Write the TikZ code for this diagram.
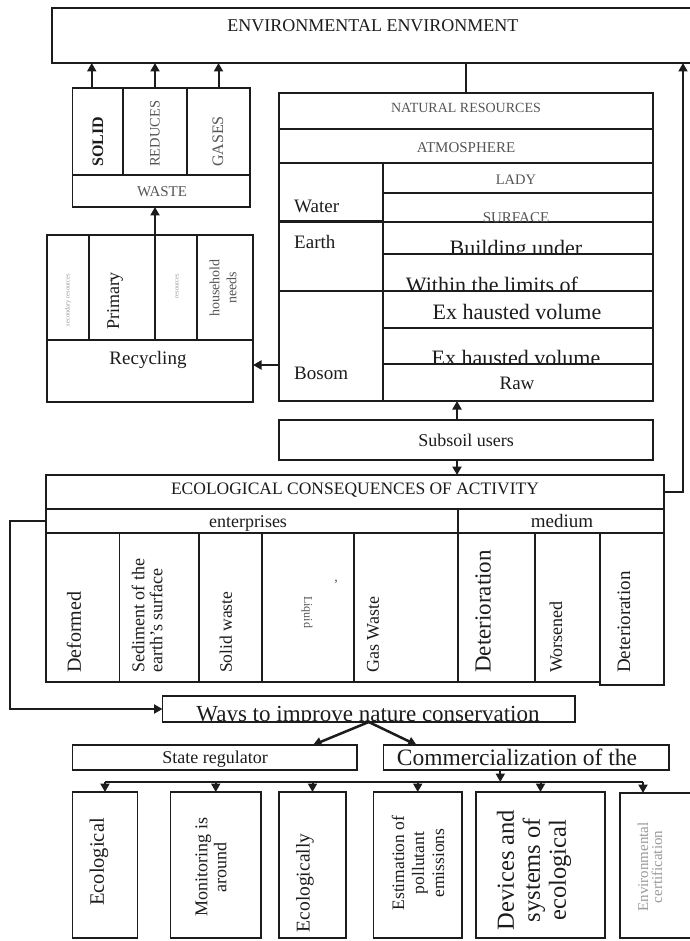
\documentclass[tikz,border=0pt]{standalone}
\usepackage{fontspec}
\setmainfont{Liberation Serif}
\usetikzlibrary{arrows.meta}
\definecolor{ink}{HTML}{1C1C1C}
\definecolor{soft}{HTML}{555555}
\definecolor{faint}{HTML}{9A9A9A}
\newcommand\fz[2]{\fontsize{#1}{#2}\selectfont}
% a framed cell given by its name and its corners (x1,y1) (x2,y2)
\newcommand\cell[5]{\node[cellbox, minimum width={(#4-#2)*1pt}, minimum height={(#5-#3)*1pt}] (#1) at ({(#2+#4)/2},{(#3+#5)/2}) {};}
\begin{document}
\begin{tikzpicture}[x=1pt,y=-1pt,
  cellbox/.style={draw=ink, line width=1.2pt, inner sep=0pt, outer sep=0pt},
  arr/.style={draw=ink, line width=2pt, -{Triangle[length=8.5pt,width=9pt]}},
  lbl/.style={inner sep=0pt, text=ink},
  vert/.style={rotate=90}]
\useasboundingbox (0,0) rectangle (689,941);
\fill[white] (0,0) rectangle (689,941);

% ---- top: environment ----
\cell{env}{52}{8}{700}{63}
\node[lbl, font=\fz{18}{20}, anchor=base] (t-env) at (373,32) {ENVIRONMENTAL ENVIRONMENT};

% ---- waste block ----
\cell{wsolid}{72.5}{88}{123}{175}
\cell{wred}{123}{88}{187}{175}
\cell{wgas}{187}{88}{250}{175}
\cell{wlab}{72.5}{175}{250}{207}
\node[lbl, font=\bfseries\fz{16}{18}, vert, anchor=west] (t-solid) at (98,167) {SOLID};
\node[lbl, text=soft, font=\fz{14.5}{16}, vert, anchor=west] (t-red) at (155,167) {REDUCES};
\node[lbl, text=soft, font=\fz{16}{18}, vert, anchor=west] (t-gas) at (218,167) {GASES};
\node[lbl, text=soft, font=\fz{15}{17}, anchor=base] (t-waste) at (162,197) {WASTE};

\draw[arr] ([xshift=-6pt]wsolid.north) -- ([xshift=-6pt]wsolid.north |- env.south);
\draw[arr] (wred.north) -- (wred.north |- env.south);
\draw[arr] (wgas.north) -- (wgas.north |- env.south);

% ---- recycling block ----
\cell{rc1}{47}{235}{89}{340}
\cell{rc2}{89}{235}{155}{340}
\cell{rc3}{155}{235}{197}{340}
\cell{rc4}{197}{235}{253}{340}
\cell{rcl}{47}{340}{253}{402}
\node[lbl, text=faint, font=\fz{6.5}{7}, vert] (t-rc1) at (68,300) {secondary resources};
\node[lbl, font=\fz{18}{20}, vert] (t-prim) at (115,301) {Primary};
\node[lbl, text=faint, font=\fz{6.5}{7}, vert] (t-rc3) at (177,286) {resources};
\node[lbl, text=soft, font=\fz{14}{17}, vert, align=center] (t-hh) at (223,288) {household\\needs};
\node[lbl, font=\fz{19}{21}, anchor=base] (t-rec) at (148,364) {Recycling};
\draw[arr] (rc2.north east) -- (rc2.north east |- wlab.south);

% ---- natural resources block ----
\cell{nr}{279}{93}{653}{129}
\cell{atm}{279}{129}{653}{163}
\cell{water}{279}{163}{383}{222}
\cell{lady}{383}{163}{653}{193}
\cell{surf}{383}{193}{653}{222}
\cell{earth}{279}{222}{383}{291}
\cell{build}{383}{222}{653}{254}
\cell{within}{383}{254}{653}{291}
\cell{bosom}{279}{291}{383}{401}
\cell{ev1}{383}{291}{653}{328}
\cell{ev2}{383}{328}{653}{364}
\cell{raw}{383}{364}{653}{401}
\draw[ink, line width=3pt] (water.south west) -- (water.south east);
\draw[ink, line width=1.2pt] (nr.north) -- (nr.north |- env.south);

\node[lbl, text=soft, font=\fz{14}{16}, anchor=base] (t-nr) at (466,113) {NATURAL RESOURCES};
\node[lbl, text=soft, font=\fz{15}{17}, anchor=base] (t-atm) at (466,153) {ATMOSPHERE};
\node[lbl, text=soft, font=\fz{14.5}{16}, anchor=base] (t-lady) at (516,185) {LADY};
\begin{scope}
  \clip (surf.north west) rectangle (surf.south east);
  \node[lbl, text=soft, font=\fz{15}{17}, anchor=base] (t-surf) at (516,222.5) {SURFACE};
\end{scope}
\node[lbl, font=\fz{19}{21}, anchor=base west] (t-water) at (294,213) {Water};
\node[lbl, font=\fz{19}{21}, anchor=base west] (t-earth) at (294,248) {Earth};
\node[lbl, font=\fz{19}{21}, anchor=base west] (t-bosom) at (294,379) {Bosom};
\begin{scope}
  \clip (build.north west) rectangle (build.south east);
  \node[lbl, font=\fz{22}{24}, anchor=base] (t-build) at (516,255) {Building under};
\end{scope}
\begin{scope}
  \clip (within.north west) rectangle (within.south east);
  \node[lbl, font=\fz{22}{24}, anchor=base] (t-within) at (492,292) {Within the limits of};
\end{scope}
\node[lbl, font=\fz{22}{24}, anchor=base] (t-ev1) at (517,319) {Ex hausted volume};
\begin{scope}
  \clip (ev2.north west) rectangle (ev2.south east);
  \node[lbl, font=\fz{22}{24}, anchor=base] (t-ev2) at (516,365) {Ex hausted volume};
\end{scope}
\node[lbl, font=\fz{19}{21}, anchor=base] (t-raw) at (517,389) {Raw};

\draw[arr] ([yshift=6pt]rcl.east -| bosom.west) -- ([yshift=6pt]rcl.east);

% ---- subsoil users ----
\cell{sub}{279}{420}{653}{460}
\node[lbl, font=\fz{18}{20}, anchor=base] (t-sub) at (466,446) {Subsoil users};
\draw[arr] ([xshift=-9pt]sub.north) -- ([xshift=-9pt]sub.north |- raw.south);

% ---- ecological consequences ----
\cell{eco}{46}{475}{664}{509}
\cell{ent}{46}{509}{458}{533}
\cell{med}{458}{509}{664}{533}
\cell{c1}{46}{533}{119.5}{682}
\cell{c2}{119.5}{533}{199}{682}
\cell{c3}{199}{533}{262}{682}
\cell{c4}{262}{533}{354}{682}
\cell{c5}{354}{533}{458}{682}
\cell{c6}{458}{533}{535}{682}
\cell{c7}{535}{533}{600}{682}
\cell{c8}{600}{533}{664}{685}
\draw[arr] ([xshift=-9pt]sub.south) -- ([xshift=-9pt]sub.south |- eco.north);

\node[lbl, font=\fz{17.5}{19}, anchor=base] (t-eco) at (355,494) {ECOLOGICAL CONSEQUENCES OF ACTIVITY};
\node[lbl, font=\fz{18}{20}, anchor=base] (t-ent) at (248,527) {enterprises};
\node[lbl, font=\fz{19}{21}, anchor=base] (t-med) at (562,527) {medium};

\node[lbl, font=\fz{20}{22}, vert, anchor=west] (t-c1) at (74,673) {Deformed};
\node[lbl, font=\fz{18}{18}, vert, anchor=west, align=left] (t-c2) at (147,673) {Sediment of the\\earth's surface};
\node[lbl, font=\fz{17.5}{19}, vert, anchor=west] (t-c3) at (226,673) {Solid waste};
\node[lbl, text=soft, font=\fz{12}{14}, rotate=-90] (t-c4) at (307,612) {Liquid};
\node[lbl, text=soft, font=\fz{14}{14}] (t-comma) at (336,582) {,};
\node[lbl, font=\fz{18}{20}, vert, anchor=west] (t-c5) at (373,673) {Gas Waste};
\node[lbl, font=\fz{23}{25}, vert, anchor=west] (t-c6) at (483,673) {Deterioration};
\node[lbl, font=\fz{18}{20}, vert, anchor=west] (t-c7) at (556,673) {Worsened};
\node[lbl, font=\fz{19}{21}, vert, anchor=west] (t-c8) at (624,673) {Deterioration};

% feedback to the environment (right) and to the ways (left)
\coordinate (rbend) at (683,492);
\draw[arr, line width=1.8pt] (eco.east) -- (rbend) -- (rbend |- env.south);

% ---- ways to improve ----
\cell{ways}{162.5}{696}{575}{722}
\begin{scope}
  \clip (ways.north west) rectangle (ways.south east);
  \node[lbl, font=\fz{23}{25}, anchor=base] (t-ways) at (368,721) {Ways to improve nature conservation};
\end{scope}
\coordinate (lbend) at (10,521);
\draw[arr] (ent.west) -- (lbend) |- (ways.west);

\cell{state}{72.5}{745}{357}{770}
\cell{comm}{383.6}{745}{669}{770}
\node[lbl, font=\fz{18}{20}, anchor=base] (t-state) at (215,763) {State regulator};
\node[lbl, font=\fz{23.5}{25}, anchor=base] (t-comm) at (517,765) {Commercialization of the};
\draw[arr, line width=2.5pt] (ways.south) -- ([xshift=-44pt]state.north east);
\draw[arr, line width=2.5pt] (ways.south) -- ([xshift=33pt]comm.north west);

% ---- measures ----
\cell{b1}{72.5}{792}{137.5}{938}
\cell{b2}{170.5}{792}{261}{938}
\cell{b3}{279}{792}{346}{938}
\cell{b4}{373.5}{792}{462}{938}
\cell{b5}{476}{792}{605}{938}
\cell{b6}{620}{793}{700}{938}
\coordinate (busL) at (105,782);
\coordinate (busR) at (643,782);
\draw[ink, line width=2pt] (busL) -- (busR);
\draw[arr] ([xshift=-26pt]comm.south) -- ([xshift=-26pt]comm.south |- busL);
\draw[arr] (b1.north |- busL) -- (b1.north);
\draw[arr] (b2.north |- busL) -- (b2.north);
\draw[arr] (b3.north |- busL) -- (b3.north);
\draw[arr] (b4.north |- busL) -- (b4.north);
\draw[arr] (b5.north |- busL) -- (b5.north);
\draw[arr] (busR) -- (busR |- b6.north);

\node[lbl, font=\fz{20.5}{22}, vert] (t-b1) at (99,862) {Ecological};
\node[lbl, font=\fz{18}{19}, vert, align=center] (t-b2) at (211,867) {Monitoring is\\around};
\node[lbl, font=\fz{19.5}{21}, vert] (t-b3) at (305,883) {Ecologically};
\node[lbl, font=\fz{17.5}{20}, vert, align=center] (t-b4) at (418,863) {Estimation of\\pollutant\\emissions};
\node[lbl, font=\fz{24.5}{26}, vert, align=center] (t-b5) at (534,870) {Devices and\\systems of\\ecological};
\node[lbl, text=faint, font=\fz{15}{14}, vert, align=center] (t-b6) at (650,867) {Environmental\\certification};
\end{tikzpicture}
\end{document}
